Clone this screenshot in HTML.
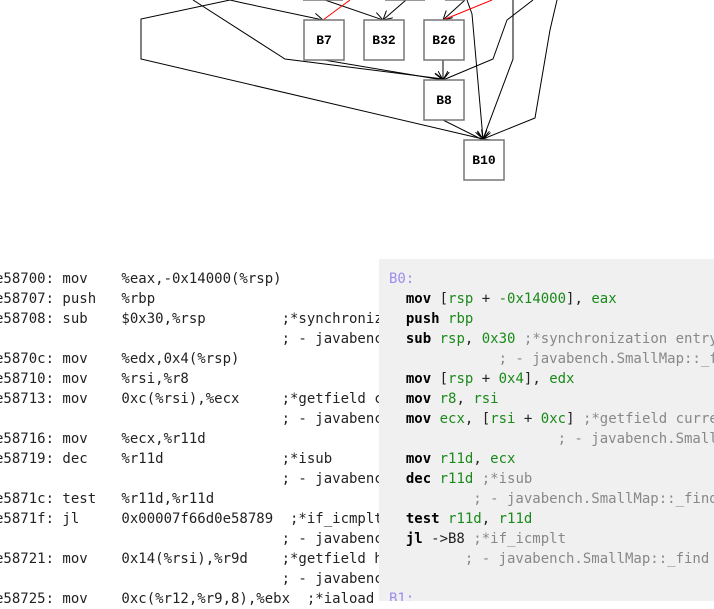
<!DOCTYPE html>
<html><head><meta charset="utf-8"><style>
body{margin:0;width:714px;height:601px;overflow:hidden;background:#fff;position:relative;font-family:"DejaVu Sans Mono",monospace;}
svg{position:absolute;left:0;top:0}
.l{position:absolute;left:-5px;top:269px;font-size:14px;line-height:20px;white-space:pre;color:#222}
.r{position:absolute;left:379px;top:259px;width:335px;height:342px;background:#f0f0f0;overflow:hidden}
.r pre{margin:0;position:absolute;left:10px;top:10px;font-family:"DejaVu Sans Mono",monospace;font-size:14px;line-height:20px;color:#222}
.k{font-weight:bold;color:#000}.g{color:#1a8a1a}.c{color:#888}.b{color:#9c8cf0}
</style></head><body>
<svg width="714" height="260" viewBox="0 0 714 260">
<defs><marker id="a" markerWidth="10" markerHeight="10" refX="9" refY="5" orient="auto" markerUnits="userSpaceOnUse"><polyline points="0,0 9,5 0,10" fill="none" stroke="#000" stroke-width="1"/></marker></defs>
<g fill="none" stroke="#000" stroke-width="1">
<polyline points="230,0 141,19 141,59 483,139" marker-end="url(#a)"/>
<polyline points="230,0 243,3 323,20" marker-end="url(#a)"/>
<polyline points="193,0 285,59 443,79" marker-end="url(#a)"/>
<polyline points="324,60 443,80" marker-end="url(#a)"/>
<polyline points="325,0 383,20" marker-end="url(#a)"/>
<polyline points="406,0 383,20" marker-end="url(#a)"/>
<polyline points="465,0 443,20" marker-end="url(#a)"/>
<polyline points="467,0 472,14 483,139" marker-end="url(#a)"/>
<polyline points="533,0 507,20 493,59 443,80" marker-end="url(#a)"/>
<polyline points="513,0 513,59 483,139" marker-end="url(#a)"/>
<polyline points="557,0 550,30 535,118 483,139" marker-end="url(#a)"/>
<polyline points="443,60 443,80" marker-end="url(#a)"/>
<polyline points="443,120 483,140" marker-end="url(#a)"/>
</g>
<g stroke="#f00" stroke-width="1"><line x1="350" y1="0" x2="323" y2="20"/><line x1="492" y1="0" x2="443" y2="20"/></g>
<g fill="#fff" stroke="#777" stroke-width="1.5">
<line x1="303" y1="0" x2="343" y2="0"/><line x1="385" y1="0" x2="425" y2="0"/><line x1="445" y1="0" x2="465" y2="0"/>
<rect x="304" y="20" width="40" height="40"/><rect x="364" y="20" width="40" height="40"/><rect x="424" y="20" width="40" height="40"/>
<rect x="424" y="80" width="40" height="40"/><rect x="464" y="140" width="40" height="40"/>
</g>
<g font-family="Liberation Mono, monospace" font-weight="bold" font-size="13" text-anchor="middle" fill="#000">
<text x="324" y="44">B7</text><text x="384" y="44">B32</text><text x="444" y="44">B26</text><text x="444" y="104">B8</text><text x="484" y="164">B10</text>
</g>
</svg>
<div class="l">e58700: mov    %eax,-0x14000(%rsp)
e58707: push   %rbp
e58708: sub    $0x30,%rsp         ;*synchronization entry
                                  ; - javabench.SmallMap
e5870c: mov    %edx,0x4(%rsp)
e58710: mov    %rsi,%r8
e58713: mov    0xc(%rsi),%ecx     ;*getfield current
                                  ; - javabench.SmallMap
e58716: mov    %ecx,%r11d
e58719: dec    %r11d              ;*isub
                                  ; - javabench.SmallMap
e5871c: test   %r11d,%r11d
e5871f: jl     0x00007f66d0e58789  ;*if_icmplt
                                  ; - javabench.SmallMap
e58721: mov    0x14(%rsi),%r9d    ;*getfield h
                                  ; - javabench.SmallMap
e58725: mov    0xc(%r12,%r9,8),%ebx  ;*iaload</div>
<div class="r"><pre><span class="b">B0:</span>
  <span class="k">mov</span> [<span class="g">rsp</span> + <span class="g">-0x14000</span>], <span class="g">eax</span>
  <span class="k">push</span> <span class="g">rbp</span>
  <span class="k">sub</span> <span class="g">rsp</span>, <span class="g">0x30</span> <span class="c">;*synchronization entry</span>
<span class="c">             ; - javabench.SmallMap::_find</span>
  <span class="k">mov</span> [<span class="g">rsp</span> + <span class="g">0x4</span>], <span class="g">edx</span>
  <span class="k">mov</span> <span class="g">r8</span>, <span class="g">rsi</span>
  <span class="k">mov</span> <span class="g">ecx</span>, [<span class="g">rsi</span> + <span class="g">0xc</span>] <span class="c">;*getfield current</span>
<span class="c">                    ; - javabench.SmallMap</span>
  <span class="k">mov</span> <span class="g">r11d</span>, <span class="g">ecx</span>
  <span class="k">dec</span> <span class="g">r11d</span> <span class="c">;*isub</span>
<span class="c">          ; - javabench.SmallMap::_find</span>
  <span class="k">test</span> <span class="g">r11d</span>, <span class="g">r11d</span>
  <span class="k">jl</span> -&gt;B8 <span class="c">;*if_icmplt</span>
<span class="c">         ; - javabench.SmallMap::_find</span>

<span class="b">B1:</span></pre></div>
</body></html>
